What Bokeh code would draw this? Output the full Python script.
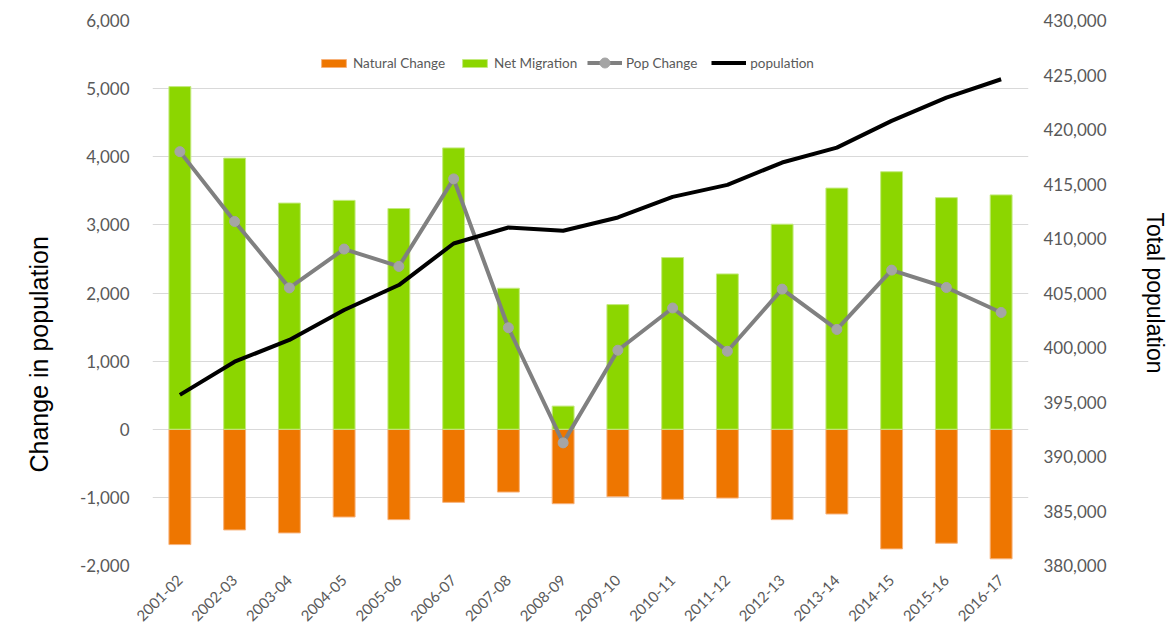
import math
from bokeh.plotting import figure
from bokeh.models import (Range1d, LinearAxis, NumeralTickFormatter, FixedTicker,
                          Legend, LegendItem, FactorRange, Title)
from bokeh.embed import file_html
from bokeh.resources import INLINE

years = ["2001-02", "2002-03", "2003-04", "2004-05", "2005-06", "2006-07", "2007-08",
         "2008-09", "2009-10", "2010-11", "2011-12", "2012-13", "2013-14", "2014-15",
         "2015-16", "2016-17"]
natural_change = [-1693, -1478, -1522, -1288, -1327, -1073, -922, -1093, -990, -1029,
                  -1010, -1327, -1244, -1756, -1673, -1902]
net_migration = [5030, 3980, 3320, 3360, 3240, 4130, 2070, 340, 1830, 2520, 2280, 3010,
                 3540, 3780, 3400, 3440]
pop_change = [4075, 3050, 2075, 2645, 2390, 3675, 1490, -200, 1160, 1780, 1145, 2057,
              1465, 2336, 2081, 1714]
population = [395650, 398700, 400690, 403440, 405730, 409540, 411010, 410710, 411930,
              413820, 414920, 416970, 418340, 420790, 422930, 424610]

left_ticks = [-2000, -1000, 0, 1000, 2000, 3000, 4000, 5000, 6000]
right_ticks = [380000, 385000, 390000, 395000, 400000, 405000, 410000, 415000, 420000,
               425000, 430000]

TICK_FONT = "Lato"
TICK_COLOR = "#595959"

p = figure(x_range=FactorRange(*years), y_range=Range1d(-2000, 6000),
           width=1168, height=630, output_backend="svg", toolbar_location=None,
           min_border_left=152, min_border_right=140, min_border_top=20,
           min_border_bottom=65)
p.frame_width = 876
p.frame_height = 545
p.outline_line_color = None
p.background_fill_color = "white"
p.border_fill_color = "white"

p.extra_y_ranges = {"pop": Range1d(380000, 430000)}

# grid
p.xgrid.grid_line_color = None
p.ygrid.grid_line_color = "#D9D9D9"
p.ygrid.grid_line_width = 1
p.yaxis.ticker = FixedTicker(ticks=left_ticks)

# left axis
ax = p.yaxis[0]
ax.formatter = NumeralTickFormatter(format="0,0")
ax.axis_line_color = None
ax.major_tick_line_color = None
ax.minor_tick_line_color = None
ax.major_label_text_font = TICK_FONT
ax.major_label_text_font_size = "17px"
ax.major_label_text_color = TICK_COLOR
ax.major_label_standoff = 17

left_title = Title(text="Change in population", align="left", offset=93,
                   vertical_align="top",
                   text_font="Liberation Sans", text_font_size="25px",
                   text_font_style="normal", text_color="black", standoff=44)
p.add_layout(left_title, "left")

# right axis
rax = LinearAxis(y_range_name="pop", ticker=FixedTicker(ticks=right_ticks),
                 formatter=NumeralTickFormatter(format="0,0"))
rax.axis_line_color = None
rax.major_tick_line_color = None
rax.minor_tick_line_color = None
rax.major_label_text_font = TICK_FONT
rax.major_label_text_font_size = "17px"
rax.major_label_text_color = TICK_COLOR
rax.major_label_standoff = 9
rax.axis_label = "Total population"
rax.axis_label_text_font = "Liberation Sans"
rax.axis_label_text_font_style = "normal"
rax.axis_label_text_font_size = "23px"
rax.axis_label_text_color = "black"
rax.axis_label_standoff = 32
p.add_layout(rax, "right")

# x axis
xa = p.xaxis[0]
xa.axis_line_color = None
xa.major_tick_line_color = None
xa.minor_tick_line_color = None
xa.major_label_orientation = math.pi / 4
xa.major_label_text_font = TICK_FONT
xa.major_label_text_font_size = "15px"
xa.major_label_text_color = TICK_COLOR
xa.major_label_standoff = 6

# bars
r_nat = p.vbar(x=years, top=natural_change, bottom=0, width=0.4,
               fill_color="#EE7600", line_color="#F7B27A", line_width=1)
r_net = p.vbar(x=years, top=net_migration, bottom=0, width=0.4,
               fill_color="#8CD600", line_color="#C4EA80", line_width=1)

# pop change line
r_pcl = p.line(x=years, y=pop_change, line_color="#808080", line_width=4)
r_pcm = p.scatter(x=years, y=pop_change, size=10, marker="circle",
                  fill_color="#A5A5A5", line_color="#A5A5A5")

# population line
r_pop = p.line(x=years, y=population, y_range_name="pop", line_color="black",
               line_width=4)


def style_legend(lg):
    lg.background_fill_alpha = 0
    lg.border_line_alpha = 0
    lg.padding = 0
    lg.margin = 0
    lg.spacing = 14
    lg.label_standoff = 4
    lg.label_text_font = "Lato"
    lg.label_text_font_size = "13.5px"
    lg.label_text_color = TICK_COLOR
    lg.label_height = 20


legend_bars = Legend(items=[
    LegendItem(label="Natural Change", renderers=[r_nat]),
    LegendItem(label="Net Migration", renderers=[r_net]),
], orientation="horizontal", location=(166, 492))
style_legend(legend_bars)
legend_bars.glyph_width = 31
legend_bars.glyph_height = 10
p.add_layout(legend_bars, "center")

legend_lines = Legend(items=[
    LegendItem(label="Pop Change", renderers=[r_pcl, r_pcm]),
    LegendItem(label="population", renderers=[r_pop]),
], orientation="horizontal", location=(435, 490))
style_legend(legend_lines)
legend_lines.glyph_width = 35
legend_lines.glyph_height = 25
p.add_layout(legend_lines, "center")

open("out.html", "w").write(file_html(p, INLINE))
